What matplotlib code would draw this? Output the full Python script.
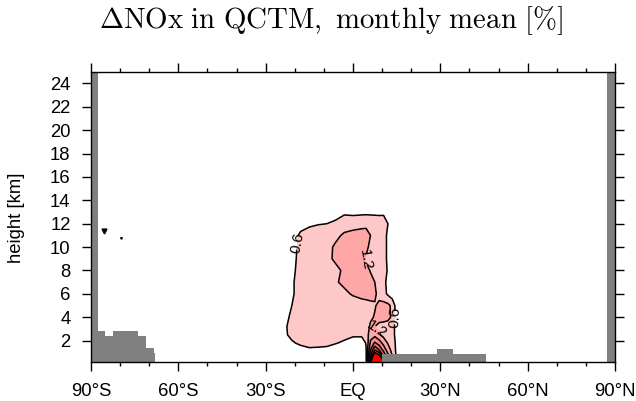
import numpy as np
import matplotlib
matplotlib.use("Agg")
import matplotlib.pyplot as plt
from matplotlib.ticker import MultipleLocator

plt.rcParams['font.family'] = ['Liberation Sans', 'DejaVu Sans']
plt.rcParams['mathtext.fontset'] = 'cm'

# ============================
# Data
# ============================
lat = [-30, -27, -24, -21, -18, -15, -12, -9, -6, -3, 0, 3, 4.5, 6, 7.5, 9,
       10.5, 12, 13.5, 15, 17, 20]
height = [0.2, 0.7, 1.2, 1.8, 2.5, 3.2, 4, 5, 6, 7, 8, 9, 10, 11, 12, 13, 14]

# delta NOx [%], one row per height level
dnox = [
    [.15, .15, .15, .2, .2, .25, .25, .25, .25, .25, .3, .35, .55, 4.0, 6.5, 5.5, 4.5, 3.0, 1.5, .6, .2, .15],
    [.15, .15, .15, .2, .2, .3, .3, .3, .3, .3, .3, .35, .55, 3.0, 5.0, 4.4, 3.0, 2.0, 1.2, .5, .15, .15],
    [.15, .15, .2, .3, .3, .5, .5, .5, .45, .4, .35, .35, .58, 2.4, 3.6, 3.0, 2.2, 1.5, 1.0, .45, .15, .15],
    [.15, .2, .3, .5, .75, .8, .75, .7, .62, .55, .45, .45, .62, 1.9, 2.5, 2.1, 1.6, 1.15, .9, .45, .15, .15],
    [.2, .3, .4, .8, .85, .85, .85, .8, .75, .7, .65, .65, .8, 1.6, 1.6, 1.3, 1.0, .9, .8, .4, .15, .15],
    [.2, .3, .45, .8, .85, .85, .85, .85, .85, .85, .85, .9, .9, 1.3, 1.2, 1.05, 1.0, .95, .85, .35, .15, .15],
    [.2, .25, .4, .7, .8, .85, .85, .85, .85, .85, .9, .95, 1.0, 1.1, 1.25, 1.4, 1.4, 1.35, 1.1, .3, .15, .15],
    [.2, .2, .3, .6, .8, .85, .85, .85, .85, .9, .95, 1.0, 1.05, 1.1, 1.15, 1.35, 1.4, 1.35, 1.05, .3, .15, .15],
    [.2, .2, .3, .55, .75, .85, .9, .9, .95, 1.1, 1.25, 1.35, 1.35, 1.35, 1.3, 1.0, .8, .5, .25, .2, .15, .15],
    [.2, .2, .3, .55, .75, .85, .9, .95, 1.15, 1.3, 1.4, 1.4, 1.35, 1.3, 1.2, .95, .75, .45, .25, .2, .15, .15],
    [.2, .2, .3, .5, .75, .85, .9, .95, 1.05, 1.3, 1.45, 1.4, 1.3, 1.18, .95, .9, .8, .55, .25, .2, .15, .15],
    [.2, .2, .25, .45, .75, .85, .9, 1.05, 1.3, 1.45, 1.45, 1.35, 1.15, 1.0, .95, .9, .8, .5, .25, .2, .15, .15],
    [.2, .2, .25, .4, .75, .85, .9, 1.0, 1.3, 1.45, 1.5, 1.4, 1.3, 1.1, .95, .9, .8, .5, .25, .2, .15, .15],
    [.2, .2, .25, .35, .7, .85, .9, .95, 1.05, 1.3, 1.4, 1.4, 1.35, 1.2, 1.0, .9, .8, .5, .25, .2, .15, .15],
    [.2, .2, .2, .2, .4, .5, .57, .6, .75, .9, .95, 1.05, 1.1, 1.05, 1.0, .95, .85, .6, .3, .2, .15, .15],
    [.15, .15, .15, .15, .2, .2, .2, .2, .25, .5, .45, .45, .45, .45, .45, .45, .5, .3, .2, .15, .15, .15],
    [.15] * 22,
]

levels = [0.6, 1.2, 1.8, 2.4, 3.0, 3.6, 4.2, 7.0]
fill_colors = ['#ffc8c8', '#ffa6a6', '#ff8c8c', '#ff7070', '#ff5454',
               '#ff3434', '#ff0000']

# topography (grey), step edges in degrees and heights in km
topo_sh_edges = [-90, -87.7, -85.2, -82.3, -73.8, -71.2, -68.4, -68.0]
topo_sh_height = [25, 2.83, 2.43, 2.83, 2.43, 1.35, 0.92]
topo_nh_edges = [9.86, 29.0, 34.3, 45.6]
topo_nh_height = [0.86, 1.29, 0.86]
topo_np_edges = [87.1, 90]
topo_np_height = [25]

# two tiny contour specks over Antarctica
speck_lat = [-85.5, -79.8]
speck_h = [11.4, 10.8]
speck_size = [3.5, 1.2]

xticks = [-90, -60, -30, 0, 30, 60, 90]
xticklabels = ['90°S', '60°S', '30°S', 'EQ', '30°N', '60°N', '90°N']
yticks = list(range(2, 25, 2))

# label spots for the contour lines (lat, km)
label_spots = [(-19.5, 10.4), (3.8, 8.8), (14.2, 4.0), (8.2, 2.9)]

# ============================
# Plot
# ============================
fig = plt.figure(figsize=(6.36, 4.01), dpi=100)
ax = fig.add_axes([91 / 636, 1 - 361.7 / 401, 524 / 636, 290 / 401])

LAT, H = np.meshgrid(lat, height)
Z = np.array(dnox)

ax.contourf(LAT, H, Z, levels=levels, colors=fill_colors, zorder=1)
cs = ax.contour(LAT, H, Z, levels=levels[:-1], colors='black',
                linewidths=1.1, zorder=2)
ax.clabel(cs, levels=[0.6, 1.2], manual=label_spots, fmt='%.1f',
          fontsize=11, inline=True, inline_spacing=2)

for la, hh, ms in zip(speck_lat, speck_h, speck_size):
    ax.plot(la, hh, marker='v', markersize=ms, color='black', zorder=2)

for edges, vals in [(topo_sh_edges, topo_sh_height),
                    (topo_nh_edges, topo_nh_height),
                    (topo_np_edges, topo_np_height)]:
    ax.stairs(vals, edges, fill=True, color='#808080', baseline=0, zorder=3)

ax.set_xlim(-90, 90)
ax.set_ylim(0.2, 25)
ax.set_xticks(xticks)
ax.set_xticklabels(xticklabels)
ax.xaxis.set_minor_locator(MultipleLocator(10))
ax.set_yticks(yticks)

ax.tick_params(which='major', direction='out', length=6.7, width=1.0,
               top=True, right=True, labelsize=13.3)
ax.tick_params(axis='x', which='major', pad=8.5)
ax.tick_params(axis='y', which='major', pad=8)
ax.tick_params(which='minor', direction='out', length=2.9, width=1.0,
               top=True, right=False)
for sp in ax.spines.values():
    sp.set_linewidth(1.0)
    sp.set_zorder(5)

fig.text(17 / 636, 1 - 218 / 401, 'height [km]', rotation=90,
         ha='center', va='center', fontsize=13.3)
fig.text(331 / 636, 1 - 21 / 401,
         r'$\Delta\mathrm{NOx\ in\ QCTM,\ monthly\ mean\ [\%]}$',
         ha='center', va='center', fontsize=20.8)

fig.savefig('out.png', dpi=100)
